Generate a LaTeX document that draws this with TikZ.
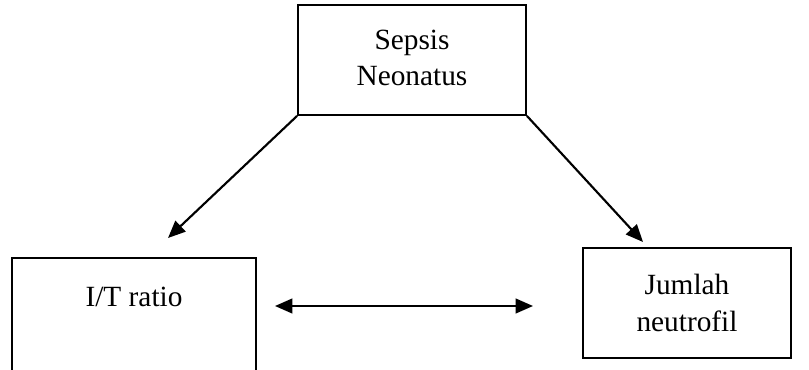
\documentclass[tikz,border=0pt]{standalone}
\usepackage{fontspec}
\setmainfont{Liberation Serif}
\usetikzlibrary{arrows.meta}
\usetikzlibrary{positioning}
\tikzset{>={Triangle[length=13pt,width=11pt]}}
\tikzset{kotak/.style={draw,line width=1.4pt,inner sep=0pt,align=center,font=\fontsize{22}{28}\selectfont}}

\begin{document}
\begin{tikzpicture}[x=0.75pt,y=-0.75pt]
\useasboundingbox (0,0) rectangle (809,370);

%Shape: Rectangle [id:sepsis]
\node[kotak,minimum width=171pt,minimum height=82.5pt] (sepsis) at (412,60) {\raisebox{3pt}{\begin{tabular}{@{}c@{}}Sepsis\\[-1pt]Neonatus\end{tabular}}};
%Shape: Rectangle [id:itratio]
\node[kotak,minimum width=183pt,minimum height=93pt,
  label={[anchor=center,font=\fontsize{22}{28}\selectfont,yshift=-30pt]north:I/T ratio}] (itratio) at (134,320) {};
%Shape: Rectangle [id:neutrofil]
\node[kotak,minimum width=156pt,minimum height=82.5pt] (neutrofil) at (687,303) {Jumlah\\neutrofil};

%Straight Lines [id:ujung]
\coordinate (itujung) at (168,238);
\coordinate (jnujung) at (643,242);
\coordinate (kiri) at (275,306);
\coordinate (kanan) at (533,306);

\draw[->,line width=1.6pt] (sepsis.south west) -- (itujung);
\draw[->,line width=1.6pt] (sepsis.south east) -- (jnujung);
\draw[<->,line width=1.6pt] (kiri) -- (kanan);
\end{tikzpicture}
\end{document}
